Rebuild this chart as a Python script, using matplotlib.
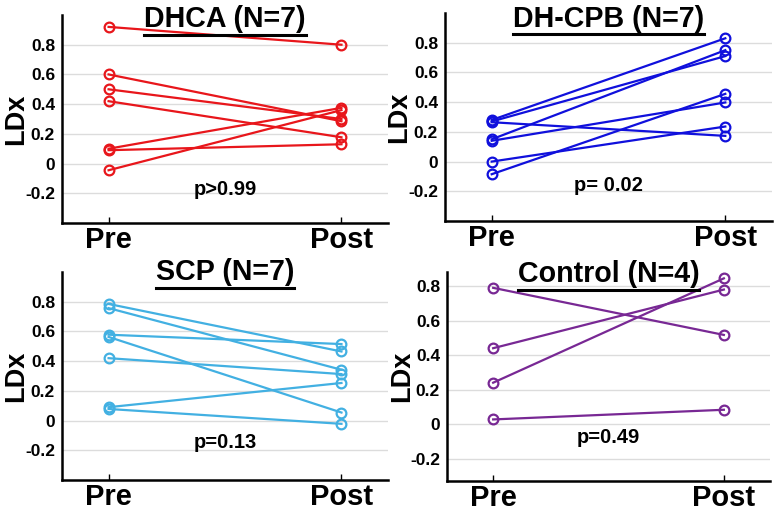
import matplotlib
matplotlib.use('Agg')
import matplotlib.pyplot as plt

plt.rcParams['font.family'] = ['Liberation Sans', 'DejaVu Sans']
plt.rcParams['font.weight'] = 'bold'

# Values (LDx, pre vs post)
dhca_pre = [0.92, 0.60, 0.50, 0.42, 0.10, 0.09, -0.045]
dhca_post = [0.80, 0.285, 0.30, 0.177, 0.375, 0.13, 0.36]

cpb_pre = [0.28, 0.27, 0.265, 0.15, 0.14, 0.0, -0.085]
cpb_post = [0.83, 0.71, 0.173, 0.75, 0.398, 0.236, 0.456]

scp_pre = [0.785, 0.757, 0.578, 0.563, 0.42, 0.09, 0.078]
scp_post = [0.465, 0.342, 0.515, 0.054, 0.313, 0.253, -0.022]

ctrl_pre = [0.79, 0.44, 0.24, 0.027]
ctrl_post = [0.517, 0.78, 0.845, 0.083]

titles = ['DHCA (N=7)', 'DH-CPB (N=7)', 'SCP (N=7)', 'Control (N=4)']
p_texts = ['p>0.99', 'p= 0.02', 'p=0.13', 'p=0.49']
p_y = [-0.175, -0.16, -0.15, -0.08]
colors = ['#e8161b', '#1010dc', '#42b0e2', '#782894']
pre_vals = [dhca_pre, cpb_pre, scp_pre, ctrl_pre]
post_vals = [dhca_post, cpb_post, scp_post, ctrl_post]
ylims = [(-0.4, 1.0), (-0.4, 1.0), (-0.4, 1.0), (-0.33, 0.88)]
title_y = [0.942, 0.935, 0.96, 0.954]
xlabels = ['Pre', 'Post']
yticks = [-0.2, 0, 0.2, 0.4, 0.6, 0.8]
ytick_labels = ['-0.2', '0', '0.2', '0.4', '0.6', '0.8']

fig = plt.figure(figsize=(7.77, 5.09), dpi=100)
positions = [
    [0.0798, 0.5619, 0.4196, 0.4086],
    [0.5727, 0.5658, 0.4209, 0.4086],
    [0.0798, 0.0570, 0.4196, 0.4086],
    [0.5753, 0.0550, 0.4157, 0.4100],
]

axes = []
title_texts = []
for i in range(4):
    ax = fig.add_axes(positions[i])
    axes.append(ax)
    for pre, post in zip(pre_vals[i], post_vals[i]):
        ax.plot([1, 2], [pre, post], color=colors[i], linewidth=1.6,
                marker='o', markersize=7, markerfacecolor='none',
                markeredgewidth=1.6)
    ax.set_xlim(0.8, 2.2)
    ax.set_ylim(*ylims[i])
    ax.set_xticks([1, 2])
    ax.set_xticklabels(xlabels, fontsize=21, fontweight='bold')
    ax.set_yticks(yticks)
    ax.set_yticklabels(ytick_labels, fontsize=12.5, fontweight='bold')
    ax.tick_params(axis='y', length=0, pad=5)
    ax.tick_params(axis='x', length=4, width=1, direction='in', pad=2)
    ax.grid(axis='y', color='#dcdcdc', linewidth=1)
    ax.set_axisbelow(True)
    for s in ['top', 'right']:
        ax.spines[s].set_visible(False)
    for s in ['left', 'bottom']:
        ax.spines[s].set_linewidth(1.8)
    ax.set_ylabel('LDx', fontsize=19.5, fontweight='bold')
    ax.yaxis.set_label_coords(-0.1, 0.5)
    ax.text(1.5, p_y[i], p_texts[i], ha='center', va='center',
            fontsize=14.5, fontweight='bold')
    t = ax.text(0.5, title_y[i], titles[i], transform=ax.transAxes,
                ha='center', va='baseline', fontsize=20.6, fontweight='bold')
    title_texts.append(t)

# underline the panel titles
fig.canvas.draw()
renderer = fig.canvas.get_renderer()
for ax, t in zip(axes, title_texts):
    bb = t.get_window_extent(renderer=renderer)
    inv = ax.transAxes.inverted()
    x0, _ = inv.transform((bb.x0, bb.y0))
    x1, _ = inv.transform((bb.x1, bb.y0))
    _, ybase = inv.transform((0, bb.y0))
    ax.plot([x0, x1], [ybase - 0.008, ybase - 0.008], color='black',
            linewidth=2.2, transform=ax.transAxes, clip_on=False)

fig.savefig('out.png', dpi=100)
